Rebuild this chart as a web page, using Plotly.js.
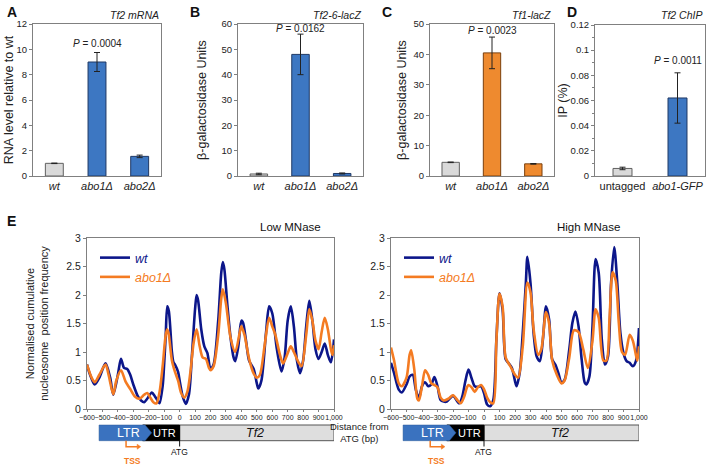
<!DOCTYPE html>
<html><head><meta charset="utf-8">
<script src="https://cdn.plot.ly/plotly-3.0.1.min.js"></script>
<style>html,body{margin:0;padding:0;background:#fff}#c{width:706px;height:467px}</style>
</head><body><div id="c"></div>
<script>
// ---- Panel A-D data ----
const strainCats = ['wt', 'abo1Δ', 'abo2Δ'];
const strainTicks = ['<i>wt</i>', '<i>abo1Δ</i>', '<i>abo2Δ</i>'];
const mrnaVals = [1.0, 9.0, 1.55];
const mrnaErr = [0.02, 0.75, 0.1];
const tf2LacZVals = [0.8, 48, 1.0];
const tf2LacZErr = [0.3, 8, 0.2];
const tf1LacZVals = [4.5, 40.5, 4.0];
const tf1LacZErr = [0.1, 5.2, 0.1];
const chipCats = ['untagged', 'abo1-GFP'];
const chipTicks = ['untagged', '<i>abo1-GFP</i>'];
const chipVals = [0.006, 0.062];
const chipErr = [0.001, 0.02];

// ---- Panel E data ----
const lowWtX = [-600,-580,-550,-520,-480,-450,-430,-400,-380,-360,-340,-320,-300,-270,-250,-230,-210,-180,-160,-140,-130,-110,-100,-90,-80,-70,-50,-40,-30,-10,0,20,40,60,80,100,110,120,140,160,180,200,220,250,270,280,290,310,330,350,360,380,400,410,430,450,480,500,510,530,560,580,600,630,660,680,700,720,740,760,780,800,820,840,860,880,900,920,940,960,980,1000];
const lowWtY = [0.78,0.6,0.43,0.55,0.8,0.55,0.25,0.6,0.88,0.72,0.7,0.6,0.43,0.22,0.15,0.12,0.18,0.29,0.22,0.14,0.1,0.4,0.8,1.3,1.8,1.72,1.0,0.82,0.78,0.65,0.5,0.22,0.09,0.25,0.95,1.75,2.0,1.9,1.4,1.1,0.98,0.7,0.78,1.55,2.4,2.58,2.45,1.8,1.25,0.9,0.84,1.1,1.55,1.52,1.2,0.85,0.7,0.45,0.36,0.5,1.35,1.8,1.68,1.05,0.66,0.9,1.55,1.8,1.45,0.85,0.63,0.85,1.45,1.9,1.55,1.05,0.88,1.0,1.15,0.95,0.82,1.22];
const lowAboX = [-600,-570,-550,-520,-480,-460,-430,-410,-380,-350,-320,-290,-260,-230,-210,-190,-170,-150,-130,-110,-90,-80,-70,-50,-30,-10,10,30,50,70,90,110,130,150,170,190,200,220,250,270,280,300,330,360,390,400,420,450,480,500,520,550,580,600,620,650,670,700,720,740,770,790,820,840,860,880,900,920,940,960,980,990,1000];
const lowAboY = [0.78,0.55,0.47,0.6,0.78,0.6,0.26,0.5,0.68,0.48,0.35,0.22,0.18,0.25,0.28,0.2,0.12,0.1,0.3,0.75,1.3,1.4,1.3,0.85,0.65,0.5,0.28,0.2,0.3,0.65,1.15,1.4,1.1,0.9,0.88,0.72,0.68,0.75,1.3,1.95,2.1,1.85,1.25,1.0,1.35,1.45,1.3,0.88,0.62,0.55,0.6,1.1,1.6,1.45,1.3,0.95,0.8,0.98,1.1,1.0,0.82,0.75,1.3,1.75,1.55,1.2,1.05,1.35,1.6,1.4,1.05,0.95,1.12];
const highWtX = [-600,-580,-550,-530,-500,-480,-460,-440,-420,-400,-380,-360,-340,-320,-300,-280,-260,-240,-200,-160,-140,-120,-100,-80,-60,-40,-20,0,20,40,60,80,100,120,140,160,180,200,210,230,250,270,280,300,320,340,360,380,400,420,440,460,480,500,520,550,570,590,610,630,650,660,680,700,720,740,760,780,800,820,840,860,880,900,920,940,960,980,1000];
const highWtY = [0.81,0.63,0.34,0.29,0.43,0.57,0.6,0.34,0.19,0.4,0.47,0.4,0.43,0.56,0.4,0.16,0.13,0.13,0.23,0.1,0.22,0.49,0.69,0.54,0.4,0.39,0.4,0.28,0.08,0.05,0.16,1.22,2.03,1.74,0.87,0.8,0.72,0.49,0.4,0.63,1.33,2.21,2.67,2.21,1.33,0.92,0.84,1.22,1.8,1.57,0.87,0.78,0.63,0.46,0.51,1.04,1.51,1.71,1.45,0.87,0.46,0.43,0.57,1.45,2.63,2.39,1.22,0.78,0.92,2.21,2.84,2.21,1.33,0.98,0.84,0.81,0.75,0.84,1.42];
const highAboX = [-600,-580,-550,-530,-500,-480,-470,-450,-430,-420,-400,-380,-360,-340,-320,-300,-280,-260,-230,-200,-170,-150,-130,-110,-100,-80,-60,-40,-20,0,20,40,60,80,100,120,140,170,200,220,250,280,300,320,350,370,400,420,440,470,500,520,550,580,610,640,670,700,720,740,770,790,810,830,850,870,890,910,940,960,980,990,1000];
const highAboY = [1.08,0.85,0.45,0.4,0.55,0.95,1.03,0.7,0.18,0.15,0.4,0.68,0.6,0.45,0.42,0.38,0.2,0.15,0.18,0.24,0.15,0.1,0.2,0.38,0.42,0.38,0.3,0.38,0.42,0.35,0.2,0.12,0.1,1.2,2.02,1.8,0.9,0.75,0.6,0.55,1.1,2.22,2.05,1.4,0.95,1.05,1.7,1.5,0.85,0.6,0.45,0.5,0.9,1.38,1.35,1.05,0.72,1.2,1.75,1.6,0.85,0.85,1.6,2.4,2.25,1.5,1.0,0.95,1.3,1.2,0.95,0.85,1.1];
const seriesNames = ['wt', 'abo1Δ'];
const eXTicks = [-600,-500,-400,-300,-200,-100,0,100,200,300,400,500,600,700,800,900,1000];

// ---- helpers ----
const W = 706, H = 467;
const px = v => v / W;
const py = v => 1 - v / H;
const FONT = 'Liberation Sans, Arial, sans-serif';
const BLUE = '#3d77c2', GREY = '#d9d9d9', ORANGE = '#ee8a2f';
const NAVY = '#0c168a', ORANGE_L = '#f47b22';
const AX = '#808080';

function barTrace(cats, vals, err, colors, lines, xa, ya, width) {
  return {type: 'bar', x: cats, y: vals, xaxis: xa, yaxis: ya, width: width,
    marker: {color: colors, line: {color: lines, width: 1}},
    error_y: {type: 'data', array: err, visible: true, color: '#222', thickness: 1, width: 3},
    showlegend: false, hoverinfo: 'x+y'};
}
function lineTrace(x, y, name, color, xa, ya, leg) {
  return {type: 'scatter', mode: 'lines', x: x, y: y,
    name: '<span style="color:' + color + '"><i>' + name + '</i></span>', xaxis: xa, yaxis: ya,
    legend: leg, line: {color: color, width: 2.6, shape: 'spline', smoothing: 0.8}};
}

const data = [
  barTrace(strainCats, mrnaVals, mrnaErr, [GREY, BLUE, BLUE], ['#606060','#1f3864','#1f3864'], 'x', 'y', 0.42),
  barTrace(strainCats, tf2LacZVals, tf2LacZErr, [GREY, BLUE, BLUE], ['#606060','#1f3864','#1f3864'], 'x2', 'y2', 0.42),
  barTrace(strainCats, tf1LacZVals, tf1LacZErr, [GREY, ORANGE, ORANGE], ['#606060','#7a3f0c','#7a3f0c'], 'x3', 'y3', 0.42),
  barTrace(chipCats, chipVals, chipErr, [GREY, BLUE], ['#606060','#1f3864'], 'x4', 'y4', 0.345),
  lineTrace(lowWtX, lowWtY, seriesNames[0], NAVY, 'x5', 'y5', 'legend'),
  lineTrace(lowAboX, lowAboY, seriesNames[1], ORANGE_L, 'x5', 'y5', 'legend'),
  lineTrace(highWtX, highWtY, seriesNames[0], NAVY, 'x6', 'y6', 'legend2'),
  lineTrace(highAboX, highAboY, seriesNames[1], ORANGE_L, 'x6', 'y6', 'legend2')
];

function barX(dom, cats, ticks, anchor) {
  return {domain: dom, anchor: anchor, type: 'category', tickvals: cats, ticktext: ticks, showline: true, mirror: true,
    linecolor: AX, linewidth: 1, ticks: '', tickfont: {size: 11, color: '#222'}, showgrid: false};
}
function barY(dom, range, dtick, anchor, title, standoff, extra) {
  const o = {domain: dom, range: range, dtick: dtick, anchor: anchor, showline: true, mirror: true,
    linecolor: AX, linewidth: 1, ticks: 'outside', ticklen: 3, tickcolor: AX, showgrid: false,
    zeroline: false, tickfont: {size: 9.5, color: '#222'},
    title: {text: title, font: {size: 12.5, color: '#222'}, standoff: standoff}};
  return Object.assign(o, extra || {});
}
const barYDom = [py(176), py(24)];
const eYDom = [py(409), py(238)];

function eX(dom, anchor) {
  return {domain: dom, anchor: anchor, range: [-600, 1000], tickvals: eXTicks, tickformat: ',d',
    tickangle: 0, showline: true, mirror: true, linecolor: AX, linewidth: 1, ticks: 'outside',
    ticklen: 2, tickcolor: AX, showgrid: false, zeroline: false, tickfont: {size: 7, color: '#222'}};
}
function eY(dom, anchor, title) {
  return {domain: dom, anchor: anchor, range: [0, 3], dtick: 0.5, showline: true, mirror: true,
    linecolor: AX, linewidth: 1, ticks: 'outside', ticklen: 3, tickcolor: AX, showgrid: false,
    zeroline: false, tickfont: {size: 10.5, color: '#222'},
    title: {text: title, font: {size: 11, color: '#222'}, standoff: 15}};
}

const ann = [];
function txt(x, y, text, opts) {
  ann.push(Object.assign({x: x, y: y, xref: 'paper', yref: 'paper', text: text, showarrow: false,
    xanchor: 'center', yanchor: 'middle',
    font: {family: FONT, size: 10, color: '#222'}}, opts || {}));
}
// panel letters
[['A', 12, 12], ['B', 195, 12], ['C', 387, 12], ['D', 572, 12], ['E', 11, 221]].forEach(l =>
  txt(px(l[1]), py(l[2]), '<b>' + l[0] + '</b>', {font: {family: FONT, size: 14, color: '#111'}}));
// panel subtitles
[['<i>Tf2 mRNA</i>', 161, 15], ['<i>Tf2-6-lacZ</i>', 363, 15], ['<i>Tf1-lacZ</i>', 553, 15], ['<i>Tf2 ChIP</i>', 704, 15]].forEach(s =>
  txt(px(s[1]), py(s[2]), s[0], {xanchor: 'right', font: {family: FONT, size: 10.5, color: '#222'}}));
// P values
[['x', 'y', 10.45, '0.0004'], ['x2', 'y2', 58.2, '0.0162'], ['x3', 'y3', 47.7, '0.0023'], ['x4', 'y4', 0.0915, '0.0011']].forEach(p =>
  ann.push({xref: p[0], yref: p[1], x: p[0] === 'x4' ? 'abo1-GFP' : 'abo1Δ', y: p[2], text: '<i>P</i> = ' + p[3],
    showarrow: false, xanchor: 'center', yanchor: 'middle', font: {family: FONT, size: 10, color: '#222'}}));
// E titles
txt(px(290), py(227), 'Low MNase', {font: {family: FONT, size: 11.5, color: '#111'}});
txt(px(588), py(227), 'High MNase', {font: {family: FONT, size: 11.5, color: '#111'}});
txt(px(359), py(432.5), 'Distance from<br>ATG (bp)', {font: {family: FONT, size: 9.5, color: '#222'}});

// gene diagrams
const shapes = [];
const gy0 = py(440.7), gy1 = py(425), gym = (gy0 + gy1) / 2;
['x5', 'x6'].forEach(xr => {
  shapes.push({type: 'rect', xref: xr, yref: 'paper', x0: 0, x1: 1000, y0: gy0, y1: gy1,
    fillcolor: '#dedede', line: {color: '#555', width: 1}});
  shapes.push({type: 'rect', xref: xr, yref: 'paper', x0: -240, x1: 0, y0: gy0, y1: gy1,
    fillcolor: '#000', line: {color: '#000', width: 1}});
  shapes.push({type: 'path', xref: xr, yref: 'paper',
    path: `M -522 ${gy0} L -224 ${gy0} L -181 ${gym} L -224 ${gy1} L -522 ${gy1} Z`,
    fillcolor: '#3a72bf', line: {color: '#2c5a99', width: 0.5}});
  shapes.push({type: 'line', xref: xr, yref: 'paper', x0: 0, x1: 0, y0: gy0, y1: py(446.5),
    line: {color: '#111', width: 1}});
  shapes.push({type: 'path', xref: xr, yref: 'paper',
    path: `M -347 ${gy0} L -347 ${py(446.7)} L -272 ${py(446.7)}`,
    line: {color: ORANGE_L, width: 1.5}});
  shapes.push({type: 'path', xref: xr, yref: 'paper',
    path: `M -275 ${py(444.2)} L -252 ${py(446.7)} L -275 ${py(449.2)} Z`,
    fillcolor: ORANGE_L, line: {color: ORANGE_L, width: 0.5}});
  const g = (x, y, text, size, color) => ann.push({xref: xr, yref: 'paper', x: x, y: y, text: text,
    showarrow: false, xanchor: 'center', yanchor: 'middle', font: {family: FONT, size: size, color: color}});
  g(-330, gym, 'LTR', 12.5, '#fff');
  g(-95, gym, 'UTR', 11, '#fff');
  g(488, gym, '<i>Tf2</i>', 12.5, '#111');
  g(0, py(452), 'ATG', 8.5, '#111');
  g(-307, py(461), '<b>TSS</b>', 8.5, ORANGE_L);
});

const legendCommon = {bgcolor: 'rgba(0,0,0,0)', borderwidth: 0, font: {family: FONT, size: 12.5},
  itemwidth: 30, xanchor: 'left', yanchor: 'top', tracegroupgap: 0};

const layout = {
  width: W, height: H, margin: {l: 0, r: 0, t: 0, b: 0}, paper_bgcolor: '#fff', plot_bgcolor: '#fff',
  font: {family: FONT, color: '#222'}, showlegend: true,
  xaxis: barX([px(33), px(161)], strainCats, strainTicks, 'y'),
  yaxis: barY(barYDom, [0, 12], 2, 'x', 'RNA level relative to wt', 0),
  xaxis2: barX([px(238), px(363)], strainCats, strainTicks, 'y2'),
  yaxis2: barY(barYDom, [0, 60], 10, 'x2', 'β-galactosidase Units', 12),
  xaxis3: barX([px(430), px(554)], strainCats, strainTicks, 'y3'),
  yaxis3: barY(barYDom, [0, 50], 10, 'x3', 'β-galactosidase Units', 4),
  xaxis4: barX([px(595), px(705)], chipCats, chipTicks, 'y4'),
  yaxis4: barY([py(176), py(25)], [0, 0.12], 0.02, 'x4', 'IP (%)', 0,
    {minor: {dtick: 0.01, ticks: 'outside', ticklen: 2, tickcolor: AX}}),
  xaxis5: eX([px(87), px(334)], 'y5'),
  yaxis5: eY(eYDom, 'x5', 'Normalised cumulative<br>nucleosome  position frequency'),
  xaxis6: eX([px(391), px(639)], 'y6'),
  yaxis6: eY(eYDom, 'x6', ''),
  legend: Object.assign({x: px(95), y: py(243)}, legendCommon),
  legend2: Object.assign({x: px(399), y: py(243)}, legendCommon),
  annotations: ann, shapes: shapes
};
Plotly.newPlot('c', data, layout, {staticPlot: true, displayModeBar: false});
</script></body></html>
